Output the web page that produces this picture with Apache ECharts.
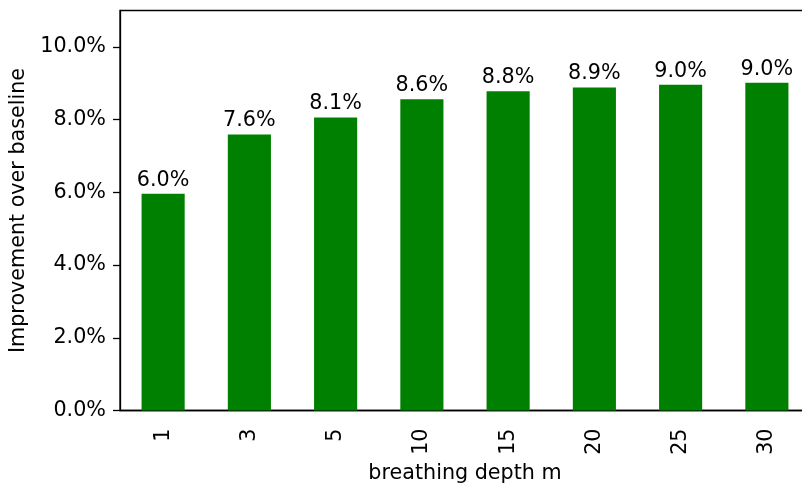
<!DOCTYPE html>
<html lang="en">
<head>
    <meta charset="UTF-8">
    <title>Improvement over baseline</title>
    <script src="https://cdn.jsdelivr.net/npm/echarts@6/dist/echarts.min.js"></script>
    <style>
        html, body { margin: 0; padding: 0; background: #fff; }
    </style>
</head>
<body>
    <div id="main" style="width: 802px;height: 483px"></div>
    <script type="text/javascript">
        // depth m on the x axis
        var depths = ['1', '3', '5', '10', '15', '20', '25', '30'];
        // improvement in percent
        var improvement = [5.96, 7.59, 8.06, 8.56, 8.78, 8.88, 8.96, 9.01];
        var yTicks = [0, 2, 4, 6, 8, 10];

        var font = 'DejaVu Sans';
        var fs = 20.7;
        var myChart = echarts.init(document.getElementById('main'));

        var option = {
            animation: false,
            backgroundColor: '#fff',
            grid: {
                left: 120,
                top: 10.5,
                right: -8,
                bottom: 72.5,
                outerBoundsMode: 'none',
                containLabel: false,
                show: true,
                borderColor: '#000',
                borderWidth: 1.3,
                backgroundColor: 'transparent'
            },
            xAxis: {
                type: 'category',
                data: depths,
                name: 'breathing depth m',
                nameLocation: 'middle',
                nameGap: 46,
                nameTextStyle: { fontFamily: font, fontSize: fs, color: '#000' },
                axisLine: { lineStyle: { color: '#000', width: 1.3 } },
                axisTick: { alignWithLabel: true, length: 7, lineStyle: { color: '#000', width: 1.3 } },
                axisLabel: { rotate: 90, margin: 18, fontFamily: font, fontSize: fs, color: '#000' }
            },
            yAxis: {
                type: 'value',
                min: 0,
                max: 11,
                name: 'Improvement over baseline',
                nameLocation: 'middle',
                nameGap: 86,
                nameTextStyle: { fontFamily: font, fontSize: fs, color: '#000' },
                splitLine: { show: false },
                axisLine: { show: true, lineStyle: { color: '#000', width: 1.3 } },
                axisTick: { show: true, length: 7, customValues: yTicks, lineStyle: { color: '#000', width: 1.3 } },
                axisLabel: {
                    customValues: yTicks,
                    margin: 14,
                    fontFamily: font,
                    fontSize: fs,
                    color: '#000',
                    formatter: function (v) { return v.toFixed(1) + '%'; }
                }
            },
            series: [{
                type: 'bar',
                data: improvement,
                barWidth: '50%',
                itemStyle: { color: '#008000' },
                label: {
                    show: true,
                    position: 'top',
                    distance: 3,
                    fontFamily: font,
                    fontSize: fs,
                    color: '#000',
                    formatter: function (p) { return p.value.toFixed(1) + '%'; }
                }
            }]
        };
        myChart.setOption(option);
    </script>
</body>
</html>
